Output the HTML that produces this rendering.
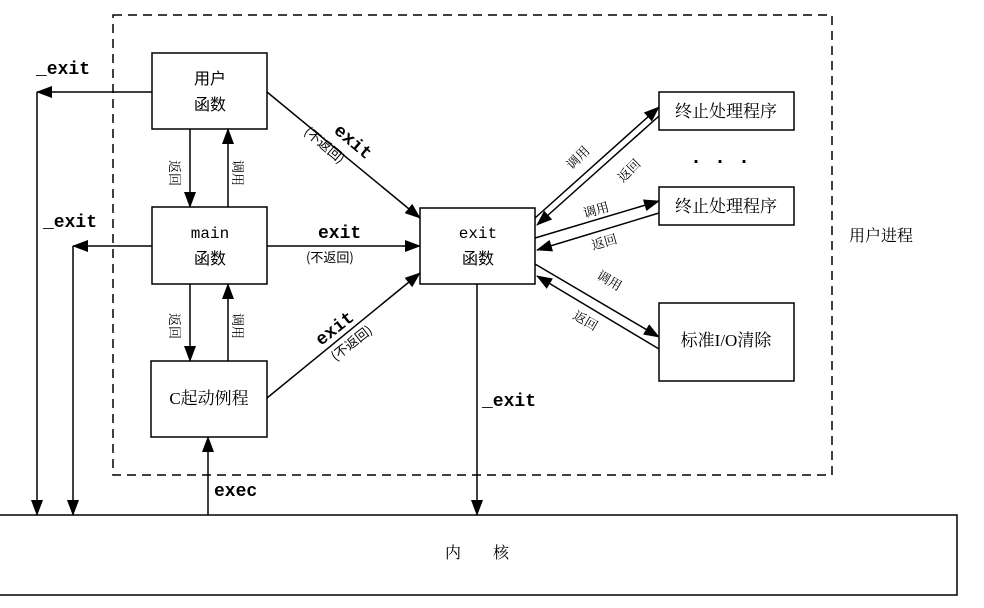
<!DOCTYPE html>
<html><head><meta charset="utf-8"><style>
body{margin:0;background:#fff}
svg{display:block}
text{font-family:"Liberation Serif","Noto Serif CJK SC",serif;fill:#000}
.m{font-family:"Liberation Mono",monospace}
.b{font-family:"Liberation Mono",monospace;font-weight:bold}
.s{font-family:"Noto Sans CJK SC",sans-serif;font-size:13px}
</style></head><body>
<svg width="984" height="608" viewBox="0 0 984 608">
<defs><marker id="a" markerWidth="16" markerHeight="12" refX="15" refY="6" orient="auto" markerUnits="userSpaceOnUse"><path d="M0,0L16,6L0,12z" fill="#000"/></marker></defs>
<g fill="none" stroke="#000" stroke-width="1.5">
<rect x="113" y="15" width="719" height="460" stroke-dasharray="9,6"/>
<rect x="152" y="53" width="115" height="76"/>
<rect x="152" y="207" width="115" height="77"/>
<rect x="151" y="361" width="116" height="76"/>
<rect x="420" y="208" width="115" height="76"/>
<rect x="659" y="92" width="135" height="38"/>
<rect x="659" y="187" width="135" height="38"/>
<rect x="659" y="303" width="135" height="78"/>
<rect x="-2" y="515" width="959" height="80"/>
</g>
<g stroke="#000" stroke-width="1.5" marker-end="url(#a)">
<line x1="152" y1="92" x2="37" y2="92"/>
<line x1="37" y1="92" x2="37" y2="515"/>
<line x1="152" y1="246" x2="73" y2="246"/>
<line x1="73" y1="246" x2="73" y2="515"/>
<line x1="190" y1="129" x2="190" y2="207"/>
<line x1="228" y1="207" x2="228" y2="129"/>
<line x1="190" y1="284" x2="190" y2="361"/>
<line x1="228" y1="361" x2="228" y2="284"/>
<line x1="208" y1="515" x2="208" y2="437"/>
<line x1="267" y1="92" x2="420" y2="218"/>
<line x1="267" y1="246" x2="420" y2="246"/>
<line x1="267" y1="398" x2="420" y2="273"/>
<line x1="477" y1="284" x2="477" y2="515"/>
<line x1="535" y1="218" x2="659" y2="107"/>
<line x1="659" y1="116" x2="537" y2="225"/>
<line x1="535" y1="238" x2="659" y2="201"/>
<line x1="659" y1="213" x2="537" y2="250"/>
<line x1="535" y1="264" x2="659" y2="337"/>
<line x1="659" y1="349" x2="537" y2="276"/>
</g>
<text x="210" y="84" text-anchor="middle" class="s" style="font-size:16px">用户</text>
<text x="210" y="110" text-anchor="middle" class="s" style="font-size:16px">函数</text>
<text x="210" y="238" font-size="16" text-anchor="middle" class="m">main</text>
<text x="210" y="264" text-anchor="middle" class="s" style="font-size:16px">函数</text>
<text x="209" y="404" font-size="17" text-anchor="middle">C起动例程</text>
<text x="478" y="238" font-size="16" text-anchor="middle" class="m">exit</text>
<text x="478" y="264" text-anchor="middle" class="s" style="font-size:16px">函数</text>
<text x="726" y="117" font-size="17" text-anchor="middle">终止处理程序</text>
<text x="726" y="212" font-size="17" text-anchor="middle">终止处理程序</text>
<text x="726" y="346" font-size="17" text-anchor="middle">标准I/O清除</text>
<text x="849" y="241" font-size="16">用户进程</text>
<text x="445" y="558" font-size="16">内</text><text x="493" y="558" font-size="16">核</text>
<text x="690" y="167" font-size="20" class="b">·  ·  ·</text>
<text x="36" y="74" font-size="18" class="b">_exit</text>
<text x="43" y="227" font-size="18" class="b">_exit</text>
<text x="214" y="496" font-size="18" class="b">exec</text>
<text x="482" y="406" font-size="18" class="b">_exit</text>
<text x="318" y="238" font-size="18" class="b">exit</text>
<text x="306" y="262" class="s">(不返回)</text>
<g transform="translate(333,132) rotate(40)"><text font-size="18" class="b">exit</text><text x="-22" y="20" class="s">(不返回)</text></g>
<g transform="translate(321,346) rotate(-38)"><text font-size="18" class="b">exit</text><text x="2" y="21" class="s">(不返回)</text></g>
<g class="s">
<text transform="translate(170,160) rotate(90)">返回</text>
<text transform="translate(233,160) rotate(90)">调用</text>
<text transform="translate(170,313) rotate(90)">返回</text>
<text transform="translate(233,313) rotate(90)">调用</text>
<text transform="translate(572,170) rotate(-45)">调用</text>
<text transform="translate(623,183) rotate(-45)">返回</text>
<text transform="translate(585,218) rotate(-16)">调用</text>
<text transform="translate(593,250) rotate(-16)">返回</text>
<text transform="translate(596,278) rotate(30)">调用</text>
<text transform="translate(572,318) rotate(30)">返回</text>
</g>
</svg>
</body></html>
